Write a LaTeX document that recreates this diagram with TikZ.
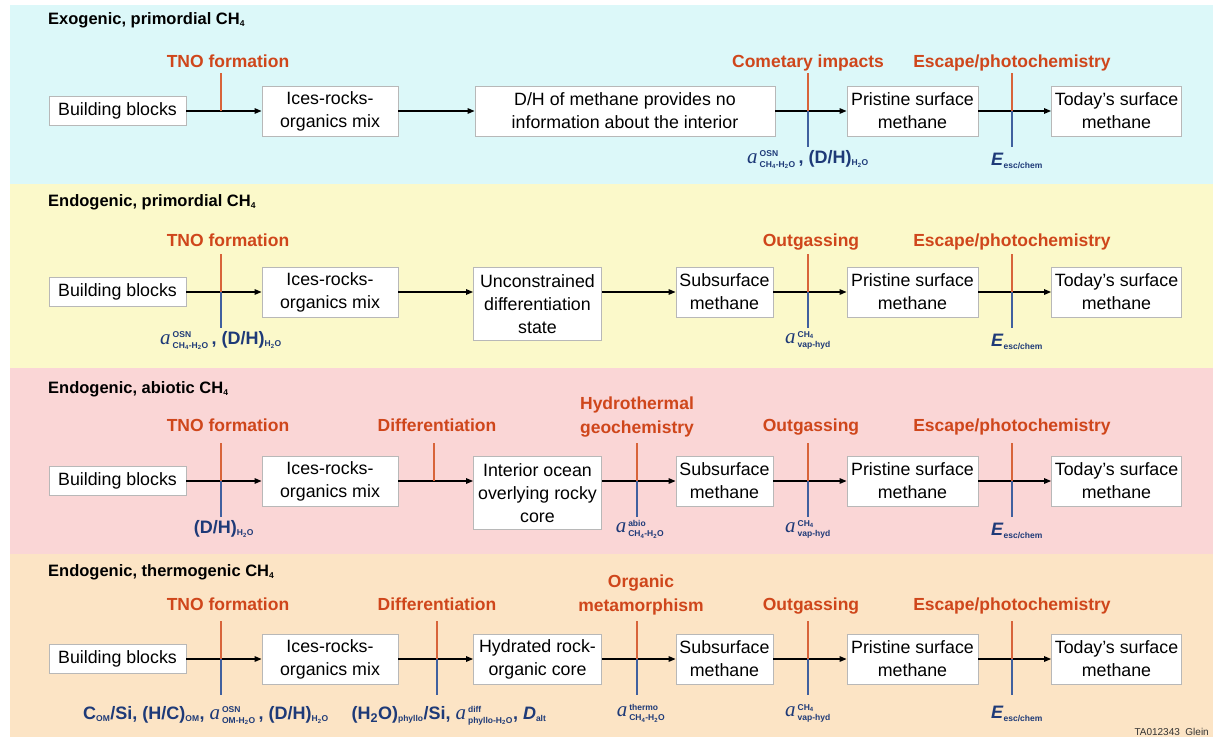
\documentclass[tikz,border=0pt]{standalone}
\usepackage{fontspec}
\setmainfont{Liberation Sans}
\newfontfamily\tnr{Liberation Serif}
\usetikzlibrary{positioning,arrows.meta}

\definecolor{bgcyan}{HTML}{DCF8F9}
\definecolor{bgyellow}{HTML}{FBF9CA}
\definecolor{bgpink}{HTML}{FAD6D6}
\definecolor{bgorange}{HTML}{FCE4C5}
\definecolor{procred}{HTML}{CF461B}
\definecolor{parblue}{HTML}{1E3A78}
\definecolor{tickred}{HTML}{D8643A}
\definecolor{tickblue}{HTML}{40609F}
\definecolor{boxgray}{HTML}{B8B8B8}

\newcommand\scr{\fontsize{8.5}{8.5}\selectfont\bfseries}
\newcommand\lo[1]{\textsubscript{\scr #1}}
\newcommand\asym[2]{$\hbox{\tnr\mdseries\itshape\fontsize{21}{21}\selectfont a\kern2pt}^{\hbox{\scr #1}}_{\hbox{\scr #2}}$}

\tikzset{
	pbox/.style = {draw=boxgray, fill=white, line width=0.8pt, inner sep=0pt, align=center,
	 font=\fontsize{17.8}{23}\selectfont, minimum height=29pt},
	pbox2/.style = {pbox, minimum height=50pt},
	pbox3/.style = {pbox, minimum height=73pt, anchor=north},
	proc/.style = {text=procred, font=\fontsize{17.5}{24}\selectfont\bfseries, align=center,
	 inner sep=0pt, text depth=0pt},
	param/.style = {text=parblue, font=\fontsize{18}{18}\selectfont\bfseries, inner sep=0pt},
	heading/.style = {anchor=base west, font=\fontsize{16.5}{16.5}\selectfont\bfseries, inner sep=0pt},
	flow/.style = {-{Triangle[length=7pt,width=5.5pt]}, line width=1.3pt}}
\tikzset{
	cross/.pic = {
	 \coordinate (-top) at (0,-38) ;
	 \coordinate (-bot) at (0,36) ;
	 \draw [tickred, line width=1.3pt] (0,0) -- (-top);
	 \draw [tickblue, line width=1.3pt] (0,0) -- (-bot);
	 },
	halfcross/.pic = {
	 \coordinate (-top) at (0,-38) ;
	 \draw [tickred, line width=1.3pt] (0,0) -- (-top);
	 }
	}

\begin{document}
\begin{tikzpicture}[x=1pt, y=-1pt]
\useasboundingbox (0,0) rectangle (1213,737);

% BANDS
\fill [bgcyan] (10,5) rectangle (1213,184);
\fill [bgyellow] (10,184) rectangle (1213,368);
\fill [bgpink] (10,368) rectangle (1213,554);
\fill [bgorange] (10,554) rectangle (1213,737);

\node (ttl1) [heading] at (48,24) {Exogenic, primordial CH\lo{4}};
\node (ttl2) [heading] at (48,206) {Endogenic, primordial CH\lo{4}};
\node (ttl3) [heading] at (48,393) {Endogenic, abiotic CH\lo{4}};
\node (ttl4) [heading] at (48,576) {Endogenic, thermogenic CH\lo{4}};

% NODES
% row 1
\node (bb1) [pbox, minimum width=137pt] at (117.5,111) {Building blocks};
\node (mix1) [pbox2, minimum width=136pt] at (330,111) {Ices-rocks-\\organics mix};
\node (dh1) [pbox2, minimum width=300pt] at (625,111) {D/H of methane provides no\\information about the interior};
\node (pris1) [pbox2, minimum width=131pt] at (912.5,111) {Pristine surface\\methane};
\node (today1) [pbox2, minimum width=130pt] at (1116.5,111) {Today’s surface\\methane};
% row 2
\node (bb2) [pbox, minimum width=137pt] at (117.5,292) {Building blocks};
\node (mix2) [pbox2, minimum width=136pt] at (330,292) {Ices-rocks-\\organics mix};
\node (mid2) [pbox3, minimum width=128pt] at (537.5,267) {Unconstrained\\differentiation\\state};
\node (sub2) [pbox2, minimum width=97pt] at (724.5,292) {Subsurface\\methane};
\node (pris2) [pbox2, minimum width=131pt] at (912.5,292) {Pristine surface\\methane};
\node (today2) [pbox2, minimum width=130pt] at (1116.5,292) {Today’s surface\\methane};
% row 3
\node (bb3) [pbox, minimum width=137pt] at (117.5,481) {Building blocks};
\node (mix3) [pbox2, minimum width=136pt] at (330,481) {Ices-rocks-\\organics mix};
\node (mid3) [pbox3, minimum width=128pt] at (537.5,456) {Interior ocean\\overlying rocky\\core};
\node (sub3) [pbox2, minimum width=97pt] at (724.5,481) {Subsurface\\methane};
\node (pris3) [pbox2, minimum width=131pt] at (912.5,481) {Pristine surface\\methane};
\node (today3) [pbox2, minimum width=130pt] at (1116.5,481) {Today’s surface\\methane};
% row 4
\node (bb4) [pbox, minimum width=137pt] at (117.5,659) {Building blocks};
\node (mix4) [pbox2, minimum width=136pt] at (330,659) {Ices-rocks-\\organics mix};
\node (mid4) [pbox2, minimum width=128pt] at (537.5,659) {Hydrated rock-\\organic core};
\node (sub4) [pbox2, minimum width=97pt] at (724.5,659) {Subsurface\\methane};
\node (pris4) [pbox2, minimum width=131pt] at (912.5,659) {Pristine surface\\methane};
\node (today4) [pbox2, minimum width=130pt] at (1116.5,659) {Today’s surface\\methane};

%CONNECTIONS
\draw [flow] (bb1) -- (mix1);
\draw [flow] (mix1) -- (dh1);
\draw [flow] (dh1) -- (pris1);
\draw [flow] (pris1) -- (today1);

\draw [flow] (bb2) -- (mix2);
\draw [flow] (mix2) -- (mix2 -| mid2.west);
\draw [flow] (mid2.east |- sub2) -- (sub2);
\draw [flow] (sub2) -- (pris2);
\draw [flow] (pris2) -- (today2);

\draw [flow] (bb3) -- (mix3);
\draw [flow] (mix3) -- (mix3 -| mid3.west);
\draw [flow] (mid3.east |- sub3) -- (sub3);
\draw [flow] (sub3) -- (pris3);
\draw [flow] (pris3) -- (today3);

\draw [flow] (bb4) -- (mix4);
\draw [flow] (mix4) -- (mid4);
\draw [flow] (mid4) -- (sub4);
\draw [flow] (sub4) -- (pris4);
\draw [flow] (pris4) -- (today4);

% PROCESSES
\pic (tno1) at (221,111) {halfcross};
\pic (com1) at (808,111) {cross};
\pic (esc1) at (1012,111) {cross};
\node (tnol1) [proc, above=5pt of tno1-top, xshift=7pt] {TNO formation};
\node (coml1) [proc, above=5pt of com1-top] {Cometary impacts};
\node (escl1) [proc, above=5pt of esc1-top] {Escape/photochemistry};
\node (comp1) [param, below=3pt of com1-bot] {\asym{OSN}{CH\textsubscript{4}-H\textsubscript{2}O}\,, (D/H)\lo{H\textsubscript{2}O}};
\node (escp1) [param, below=6pt of esc1-bot, xshift=5pt] {\textit{E}\lo{esc/chem}};

\pic (tno2) at (221,292) {cross};
\pic (out2) at (808,292) {cross};
\pic (esc2) at (1012,292) {cross};
\node (tnol2) [proc, above=7pt of tno2-top, xshift=7pt] {TNO formation};
\node (outl2) [proc, above=7pt of out2-top, xshift=3pt] {Outgassing};
\node (escl2) [proc, above=7pt of esc2-top] {Escape/photochemistry};
\node (tnop2) [param, below=3pt of tno2-bot] {\asym{OSN}{CH\textsubscript{4}-H\textsubscript{2}O}\,, (D/H)\lo{H\textsubscript{2}O}};
\node (outp2) [param, below=3pt of out2-bot] {\asym{CH\textsubscript{4}}{vap-hyd}};
\node (escp2) [param, below=6pt of esc2-bot, xshift=5pt] {\textit{E}\lo{esc/chem}};

\pic (tno3) at (221,481) {cross};
\pic (dif3) at (434,481) {halfcross};
\pic (hyd3) at (637,481) {cross};
\pic (out3) at (808,481) {cross};
\pic (esc3) at (1012,481) {cross};
\node (tnol3) [proc, above=11pt of tno3-top, xshift=7pt] {TNO formation};
\node (difl3) [proc, above=11pt of dif3-top, xshift=3pt] {Differentiation};
\node (hydl3) [proc, above=9pt of hyd3-top] {Hydrothermal\\geochemistry};
\node (outl3) [proc, above=11pt of out3-top, xshift=3pt] {Outgassing};
\node (escl3) [proc, above=11pt of esc3-top] {Escape/photochemistry};
\node (tnop3) [param, below=3pt of tno3-bot, xshift=3pt] {(D/H)\lo{H\textsubscript{2}O}};
\node (hydp3) [param, below=3pt of hyd3-bot, xshift=3pt] {\asym{abio}{CH\textsubscript{4}-H\textsubscript{2}O}};
\node (outp3) [param, below=3pt of out3-bot] {\asym{CH\textsubscript{4}}{vap-hyd}};
\node (escp3) [param, below=6pt of esc3-bot, xshift=5pt] {\textit{E}\lo{esc/chem}};

\pic (tno4) at (221,659) {cross};
\pic (dif4) at (437,659) {cross};
\pic (org4) at (637,659) {cross};
\pic (out4) at (808,659) {cross};
\pic (esc4) at (1012,659) {cross};
\node (tnol4) [proc, above=10pt of tno4-top, xshift=7pt] {TNO formation};
\node (difl4) [proc, above=10pt of dif4-top] {Differentiation};
\node (orgl4) [proc, above=9pt of org4-top, xshift=4pt] {Organic\\metamorphism};
\node (outl4) [proc, above=10pt of out4-top, xshift=3pt] {Outgassing};
\node (escl4) [proc, above=10pt of esc4-top] {Escape/photochemistry};
\node (tnop4) [param, below=11pt of tno4-bot, xshift=-15pt] {C\lo{OM}/Si, (H/C)\lo{OM}, \asym{OSN}{OM-H\textsubscript{2}O}\,, (D/H)\lo{H\textsubscript{2}O}};
\node (difp4) [param, below=11pt of dif4-bot, xshift=12pt] {(H\textsubscript{2}O)\lo{phyllo}/Si, \asym{diff}{phyllo-H\textsubscript{2}O}, \textit{D}\lo{alt}};
\node (orgp4) [param, below=9pt of org4-bot, xshift=4pt] {\asym{thermo}{CH\textsubscript{4}-H\textsubscript{2}O}};
\node (outp4) [param, below=9pt of out4-bot] {\asym{CH\textsubscript{4}}{vap-hyd}};
\node (escp4) [param, below=11pt of esc4-bot, xshift=5pt] {\textit{E}\lo{esc/chem}};

\node (tag) [anchor=base east, inner sep=0pt, text=black!80, font=\fontsize{10}{10}\selectfont] at (1209,735) {TA012343\ \ Glein};

\end{tikzpicture}
\end{document}
